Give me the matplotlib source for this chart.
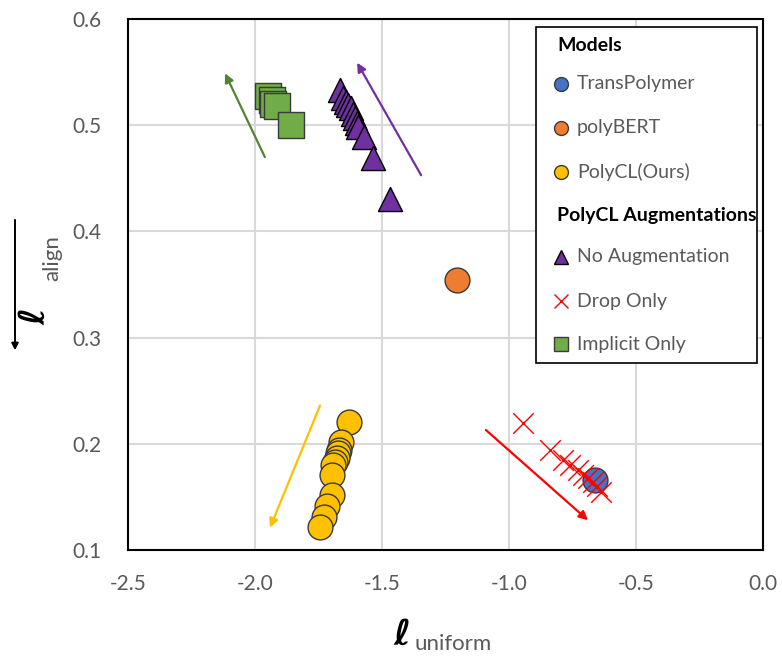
import matplotlib.pyplot as plt
from matplotlib.lines import Line2D
from matplotlib.patches import Rectangle

plt.rcParams['font.family'] = ['Lato', 'DejaVu Sans']

# data (uniformity loss, alignment loss)
transpolymer_x = [-0.66]
transpolymer_y = [0.166]
polybert_x = [-1.205]
polybert_y = [0.354]
polycl_x = [-1.630, -1.661, -1.669, -1.673, -1.677, -1.685, -1.693, -1.697, -1.697, -1.717, -1.728, -1.744]
polycl_y = [0.221, 0.202, 0.194, 0.191, 0.187, 0.183, 0.180, 0.171, 0.152, 0.141, 0.131, 0.122]
noaug_x = [-1.665, -1.654, -1.642, -1.634, -1.622, -1.614, -1.606, -1.598, -1.594, -1.571, -1.535, -1.469]
noaug_y = [0.533, 0.526, 0.522, 0.519, 0.516, 0.511, 0.507, 0.502, 0.498, 0.489, 0.469, 0.431]
drop_x = [-0.945, -0.839, -0.787, -0.760, -0.728, -0.709, -0.689, -0.669, -0.654, -0.638]
drop_y = [0.220, 0.194, 0.185, 0.180, 0.175, 0.171, 0.168, 0.164, 0.160, 0.155]
implicit_x = [-1.949, -1.933, -1.929, -1.913, -1.858]
implicit_y = [0.528, 0.524, 0.520, 0.518, 0.500]

# trend arrows: (tail, head)
arrows = {
    'implicit': ((-1.961, 0.470), (-2.118, 0.549)),
    'noaug': ((-1.346, 0.453), (-1.598, 0.559)),
    'polycl': ((-1.744, 0.236), (-1.941, 0.121)),
    'drop': ((-1.091, 0.213), (-0.689, 0.128)),
}

x_ticks = [-2.5, -2.0, -1.5, -1.0, -0.5, 0.0]
y_ticks = [0.1, 0.2, 0.3, 0.4, 0.5, 0.6]

c_blue = '#4472C4'
c_orange = '#ED7D31'
c_yellow = '#FFC000'
c_purple = '#7030A0'
c_red = '#FF0000'
c_green = '#70AD47'
c_arrow_green = '#548235'
edge = '#3a3a3a'
gray_txt = '#595959'
ell_fonts = ['DejaVu Serif', 'DejaVu Sans', 'Noto Sans']

fig = plt.figure(figsize=(7.82, 6.61), dpi=100)
ax = fig.add_axes([0.1637, 0.168, 0.812, 0.803])

ax.grid(True, color='#d9d9d9', linewidth=1.5, zorder=0)
ax.set_axisbelow(True)

# points
ax.scatter(implicit_x, implicit_y, marker='s', s=340, color=c_green, edgecolor=edge, linewidth=1, zorder=3)
ax.scatter(noaug_x, noaug_y, marker='^', s=300, color=c_purple, edgecolor='black', linewidth=1, zorder=3)
ax.scatter(polycl_x, polycl_y, marker='o', s=320, color=c_yellow, edgecolor=edge, linewidth=1, zorder=3)
ax.scatter(polybert_x, polybert_y, marker='o', s=320, color=c_orange, edgecolor=edge, linewidth=1, zorder=3)
ax.scatter(transpolymer_x, transpolymer_y, marker='o', s=320, color=c_blue, edgecolor=edge, linewidth=1, zorder=3)
ax.scatter(drop_x, drop_y, marker='x', s=220, color=c_red, linewidth=1, zorder=4)

arrow_colors = {'implicit': c_arrow_green, 'noaug': c_purple, 'polycl': c_yellow, 'drop': c_red}
for key, (tail, head) in arrows.items():
    ax.annotate('', xy=head, xytext=tail,
                arrowprops=dict(arrowstyle='-|>', color=arrow_colors[key], lw=1.6,
                                mutation_scale=13, shrinkA=0, shrinkB=0), zorder=2)

ax.set_xlim(-2.5, 0.0)
ax.set_ylim(0.1, 0.6)
ax.set_xticks(x_ticks)
ax.set_yticks(y_ticks)
ax.set_xticklabels([f'{v:.1f}' for v in x_ticks])
ax.set_yticklabels([f'{v:.1f}' for v in y_ticks])
ax.tick_params(length=0, labelsize=15, labelcolor=gray_txt)
ax.tick_params(axis='x', pad=17)
ax.tick_params(axis='y', pad=19)
for sp in ax.spines.values():
    sp.set_color('black')
    sp.set_linewidth(1.5)

# legend box drawn by hand so the section headers sit left of the markers
ax.add_patch(Rectangle((0.6425, 0.352), 0.348, 0.633, transform=ax.transAxes,
                       facecolor='white', edgecolor='black', linewidth=1.2, zorder=5))
legend_rows = [
    ('Models', None, 0.951),
    ('TransPolymer', dict(marker='o', color=c_blue, mec=edge), 0.878),
    ('polyBERT', dict(marker='o', color=c_orange, mec=edge), 0.795),
    ('PolyCL(Ours)', dict(marker='o', color=c_yellow, mec=edge), 0.712),
    ('PolyCL Augmentations', None, 0.631),
    ('No Augmentation', dict(marker='^', color=c_purple, mec='black'), 0.552),
    ('Drop Only', dict(marker='x', color=c_red, mec=c_red), 0.469),
    ('Implicit Only', dict(marker='s', color=c_green, mec=edge), 0.388),
]
for label, style, yy in legend_rows:
    if style is None:
        ax.text(0.676, yy, label, transform=ax.transAxes, fontsize=14, fontweight='bold',
                color='black', va='center', ha='left', zorder=6)
    else:
        ax.add_line(Line2D([0.682], [yy], transform=ax.transAxes, linestyle='none',
                           markersize=10, mew=1, zorder=6, **style))
        ax.text(0.707, yy, label, transform=ax.transAxes, fontsize=14, color=gray_txt,
                va='center', ha='left', zorder=6)

# axis labels
fig.text(402 / 782, 16 / 661, '\u2113', fontsize=26, fontweight='bold', style='italic',
         family=ell_fonts, ha='center', va='baseline')
fig.text(415 / 782, 11 / 661, 'uniform', fontsize=16, color=gray_txt, ha='left', va='baseline')
fig.text(45 / 782, (661 - 325) / 661, '\u2113', fontsize=26, fontweight='bold', style='italic',
         family=ell_fonts, rotation=90, rotation_mode='anchor', ha='left', va='baseline')
fig.text(58 / 782, (661 - 281) / 661, 'align', fontsize=16, color=gray_txt,
         rotation=90, rotation_mode='anchor', ha='left', va='baseline')
fig.add_artist(plt.annotate('', xy=(15 / 782, (661 - 350) / 661), xytext=(15 / 782, (661 - 220) / 661),
                            xycoords='figure fraction', textcoords='figure fraction',
                            arrowprops=dict(arrowstyle='-|>', color='black', lw=1.2,
                                            mutation_scale=10, shrinkA=0, shrinkB=0)))

fig.savefig('out.png', dpi=100)
